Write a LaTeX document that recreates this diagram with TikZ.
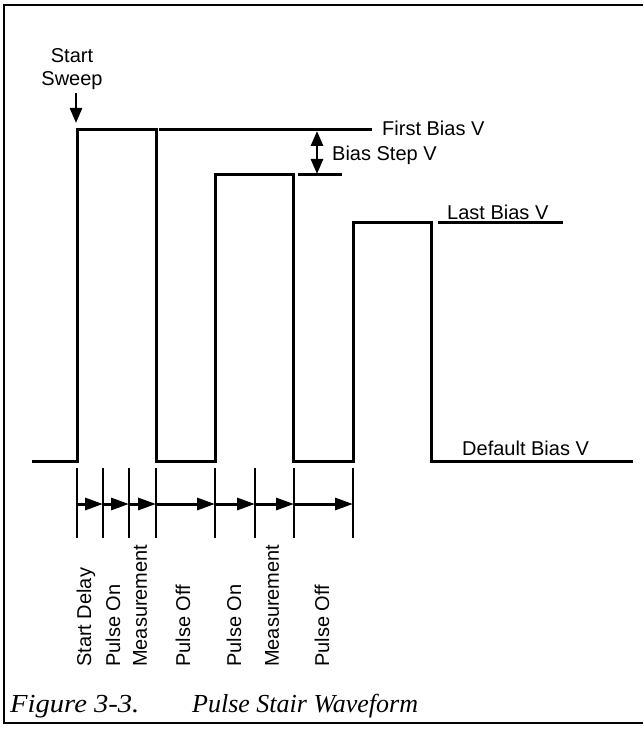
\documentclass[tikz,border=0pt]{standalone}
\usepackage{fontspec}
\usepackage{graphicx}
\setmainfont{Liberation Sans}
\newfontfamily\capfont{Liberation Serif}
\usetikzlibrary{arrows.meta}
\begin{document}
\begin{tikzpicture}[x=1pt,y=-1pt,
  wave/.style={line width=3pt, line join=miter},
  level/.style={line width=3pt},
  tick/.style={line width=2.8pt},
  span/.style={line width=3pt, -{Triangle[length=18pt,width=12pt]}},
  dbl/.style={line width=2.8pt, {Triangle[length=15pt,width=12pt]}-{Triangle[length=15pt,width=12pt]}},
  marker/.style={line width=2.8pt, -{Triangle[length=15pt,width=12pt]}},
  lbl/.style={font=\fontsize{20}{23}\selectfont, inner sep=0pt},
  vlbl/.style={lbl, rotate=90, anchor=west},
  caption/.style={font=\capfont\itshape\fontsize{26}{30}\selectfont, inner sep=0pt, anchor=base west},
  frame/.style={line width=1.6pt}]
\useasboundingbox (0,0) rectangle (643,730);

% page frame
\draw[frame] (643,5) -- (4,5) -- (4,723) -- (643,723);

% pulse stair waveform
\draw[wave] (32,461) -- (77,461) -- (77,130) -- (156,130) -- (156,461)
  -- (215,461) -- (215,175) -- (293,175) -- (293,461)
  -- (353,461) -- (353,222) -- (431,222) -- (431,461) -- (633,461);

% bias level markers
\coordinate (fb0) at (159,130);  \coordinate (fb1) at (372,130);
\coordinate (bs0) at (298,175);  \coordinate (bs1) at (342,175);
\coordinate (lb0) at (438,222);  \coordinate (lb1) at (563,222);
\draw[level] (fb0) -- (fb1);
\draw[level] (bs0) -- (bs1);
\draw[level] (lb0) -- (lb1);

\node[lbl, anchor=west] (first) at (382,128) {First Bias V};
\node[lbl, anchor=west] (step) at (332,155) {Bias Step V};
\node[lbl, anchor=base west] (last) at (447,219) {Last Bias V};
\node[lbl, anchor=base west] (default) at (462,455) {Default Bias V};

% bias step arrow
\coordinate (st0) at (317,131);
\coordinate (st1) at (317,174);
\draw[dbl] (st0) -- (st1);

% start sweep marker
\node[lbl, align=center] (sweep) at (72,69) {Start\\Sweep};
\coordinate (sw0) at (76,93);
\coordinate (sw1) at (76,123);
\draw[marker] (sw0) -- (sw1);

% timing ticks and interval arrows
\foreach \i/\x in {1/77,2/103,3/129,4/156,5/215,6/255,7/294,8/353} {
  \coordinate (t\i) at (\x,504);
  \draw[tick] (\x,468) -- (\x,538);
}
\foreach \a/\b in {1/2,2/3,3/4,4/5,5/6,6/7,7/8} {
  \draw[span] (t\a) -- (t\b);
}

% interval names
\node[vlbl] (d1) at (86,667) {Start Delay};
\node[vlbl] (d2) at (113,667) {Pulse On};
\node[vlbl] (d3) at (140,667) {Measurement};
\node[vlbl] (d4) at (183,667) {Pulse Off};
\node[vlbl] (d5) at (234,667) {Pulse On};
\node[vlbl] (d6) at (272,667) {Measurement};
\node[vlbl] (d7) at (322,667) {Pulse Off};

% caption
\node[caption] (fig) at (10,712) {\scalebox{1.1}[1]{Figure 3-3.}};
\node[caption] (title) at (192,712) {Pulse Stair Waveform};
\end{tikzpicture}
\end{document}
